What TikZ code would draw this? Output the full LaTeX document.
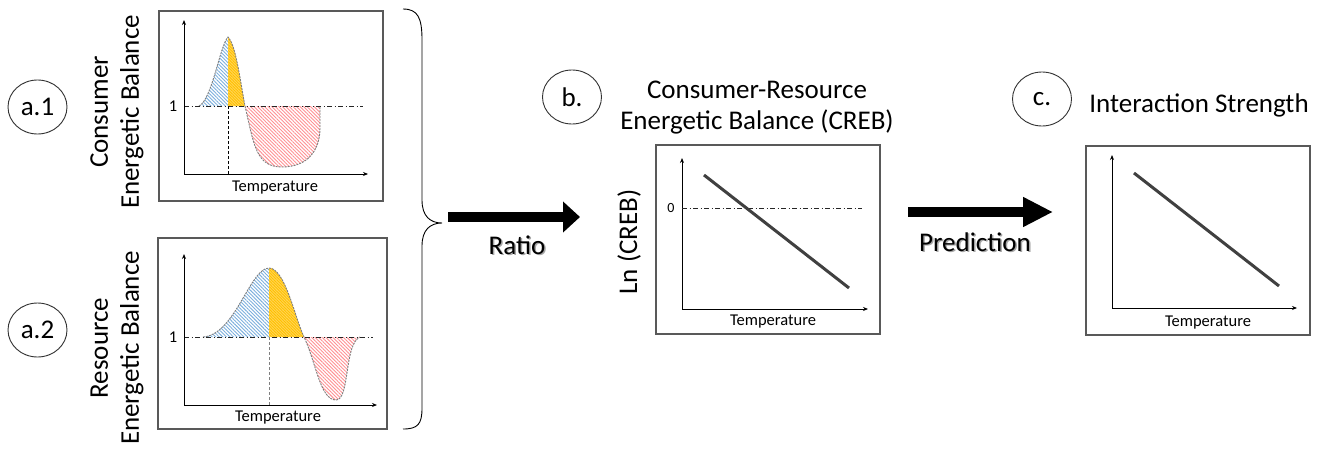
\documentclass[tikz,border=0pt]{standalone}
\usepackage{fontspec}
\setmainfont{Carlito}
\usetikzlibrary{arrows.meta,patterns.meta,shapes.geometric}
\definecolor{boxgray}{HTML}{595959}
\definecolor{hblue}{HTML}{5B9BD5}
\definecolor{hyellow}{HTML}{FFC000}
\definecolor{hred}{HTML}{FF7C80}
\definecolor{linegray}{HTML}{404040}
\tikzset{
  bigfont/.style={font=\fontsize{27}{31}\selectfont},
  smallfont/.style={font=\fontsize{16.5}{18}\selectfont},
  panel/.style={draw=boxgray, line width=1.4pt, inner sep=0pt},
  tag/.style={ellipse, draw=black!80, line width=0.9pt, minimum width=59pt, minimum height=54pt, inner sep=0pt, bigfont},
  axis/.style={line width=1pt, {Stealth[length=5pt,width=4pt]}-{Stealth[length=5pt,width=4pt]}},
  dashdot/.style={line width=0.9pt, black!85, dash pattern=on 5pt off 2.5pt on 1pt off 2.5pt},
  peakline/.style={line width=0.9pt, dash pattern=on 3pt off 2pt},
  bluefill/.style={pattern={Lines[angle=-45,distance=2.5pt,line width=0.9pt]}, pattern color=hblue!80},
  yellowfill/.style={preaction={fill=hyellow!65}, pattern={Lines[angle=-45,distance=2pt,line width=0.9pt]}, pattern color=hyellow},
  redfill/.style={pattern={Lines[angle=-45,distance=2.5pt,line width=0.9pt]}, pattern color=hred!85},
  curveline/.style={draw=gray, line width=0.9pt, dash pattern=on 2pt off 1pt},
  trend/.style={draw=linegray, line width=3pt},
  bigarrow/.style={line width=10pt, -{Triangle[length=17pt,width=30pt]}},
  bigarrowb/.style={line width=10pt, -{Triangle[length=30pt,width=28pt]}},
  shadowtext/.style={bigfont, text=black!35},
}
\begin{document}
\begin{tikzpicture}[x=1pt,y=-1pt]
\useasboundingbox (0,0) rectangle (1320,450);

% ---------- tags ----------
\node[tag] (ta1) at (37.5,107) {a.1};
\node[tag] (ta2) at (37.5,330) {a.2};
\node[tag] (tb) at (572,97) {b.};
\node[tag] (tc) at (1042,99) {c.};

% ---------- side labels ----------
\node[bigfont, rotate=90, align=center, inner sep=0pt] (la1) at (117,112) {Consumer\\Energetic Balance};
\node[bigfont, rotate=90, align=center, inner sep=0pt] (la2) at (117,348) {Resource\\Energetic Balance};

% ---------- panel a.1 ----------
\node[panel, minimum width=224pt, minimum height=190pt] (pa1) at (271,106) {};
\path[bluefill] (199,106) .. controls (212,100) and (220,45) .. (228,37) -- (228,106) -- cycle;
\path[yellowfill] (228,37) .. controls (236,45) and (240,80) .. (245,106) -- (228,106) -- cycle;
\path[redfill] (245,106) .. controls (254,145) and (256,167) .. (282,167) .. controls (308,167) and (320,150) .. (320,128) -- (320,106) -- cycle;
\draw[curveline] (199,106) .. controls (212,100) and (220,45) .. (228,37) .. controls (236,45) and (240,80) .. (245,106);
\draw[curveline] (245,106) .. controls (254,145) and (256,167) .. (282,167) .. controls (308,167) and (320,150) .. (320,128) -- (320,106);
\draw[dashdot] (184,106) -- (363,106);
\draw[peakline] (228,106) -- (228,174);
\draw[axis] (184,20) |- (368,174);
\node[smallfont] (one1) at (173,106) {1};
\node[smallfont] (temp1) at (275,188) {Temperature};

% ---------- panel a.2 ----------
\node[panel, minimum width=229pt, minimum height=191pt] (pa2) at (272.5,333.5) {};
\path[bluefill] (203,337) .. controls (235,335) and (250,268) .. (269,268) -- (269,337) -- cycle;
\path[yellowfill] (269,268) .. controls (285,268) and (295,318) .. (304,337) -- (269,337) -- cycle;
\path[redfill] (304,337) .. controls (316,362) and (320,400) .. (336,400) .. controls (350,400) and (344,344) .. (360,337) -- cycle;
\draw[curveline] (203,337) .. controls (235,335) and (250,268) .. (269,268) .. controls (285,268) and (295,318) .. (304,337) .. controls (316,362) and (320,400) .. (336,400) .. controls (350,400) and (344,344) .. (360,337);
\draw[dashdot] (184,337) -- (373,337);
\draw[peakline, gray] (269,337) -- (269,405);
\draw[axis] (184,254) |- (377,405);
\node[smallfont] (one2) at (173,337) {1};
\node[smallfont] (temp2) at (278,418) {Temperature};

% ---------- brace ----------
\coordinate (brtop) at (403,9);
\coordinate (brtip) at (442,223);
\coordinate (brbot) at (403,429);
\draw[line width=0.9pt] (brtop) .. controls (418,9) and (422,18) .. (422,40) -- (422,200)
  .. controls (422,216) and (430,223) .. (brtip)
  .. controls (430,223) and (422,230) .. (422,246) -- (422,408)
  .. controls (422,424) and (418,429) .. (brbot);

% ---------- ratio arrow ----------
\coordinate (r1) at (448,217);
\coordinate (r2) at (580,217);
\draw[bigarrow] (r1) -- (r2);
\node[shadowtext] at (518.5,246.5) {Ratio};
\node[bigfont] (ratio) at (517,245) {Ratio};

% ---------- panel b ----------
\node[bigfont, align=center] (titleb) at (757,108) {Consumer-Resource\\Energetic Balance (CREB)};
\node[panel, minimum width=224pt, minimum height=189pt] (pb) at (768,239.5) {};
\draw[axis] (682,158) |- (868,309);
\draw[dashdot] (682,208) -- (862,208);
\draw[trend] (704,175) -- (849,288);
\node[font=\fontsize{14}{16}\selectfont] (zero) at (671,208) {0};
\node[bigfont, rotate=90] (lnlab) at (629,242) {Ln (CREB)};
\node[smallfont] (tempb) at (773,322) {Temperature};

% ---------- prediction arrow ----------
\coordinate (p1) at (908,212);
\coordinate (p2) at (1053,212);
\draw[bigarrowb] (p1) -- (p2);
\node[shadowtext] at (976.5,243.5) {Prediction};
\node[bigfont] (pred) at (975,242) {Prediction};

% ---------- panel c ----------
\node[bigfont] (titlec) at (1199,105) {Interaction Strength};
\node[panel, minimum width=224pt, minimum height=189pt] (pc) at (1198,240.5) {};
\draw[axis] (1112,155) |- (1297,308);
\draw[trend] (1134,173) -- (1279,286);
\node[smallfont] (tempc) at (1208,323) {Temperature};
\end{tikzpicture}
\end{document}
